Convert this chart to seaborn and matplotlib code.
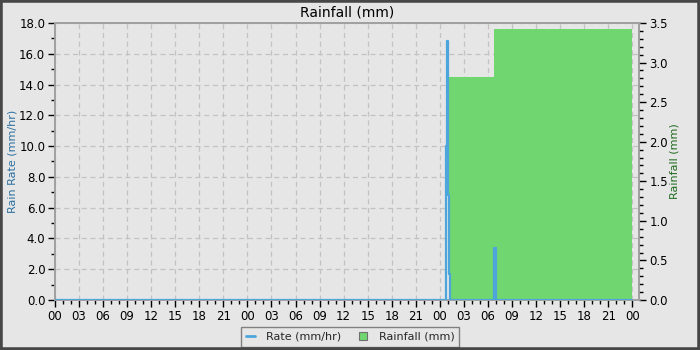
import matplotlib
matplotlib.use("Agg")
import matplotlib.pyplot as plt
from matplotlib.lines import Line2D
from matplotlib.patches import Patch, Rectangle
from matplotlib.ticker import MultipleLocator, FixedLocator, FuncFormatter
import seaborn as sns
import pandas as pd

# ---- data (hours from start of the 3-day window) ----
rate_hours = [0.0, 48.70, 48.75, 48.85, 49.00, 49.10, 49.22, 54.70, 54.75, 54.97, 72.0]
rate_mmhr = [0.0, 0.0, 10.0, 16.8, 6.8, 1.7, 0.0, 0.0, 3.4, 0.0, 0.0]

rain_hours = [49.08, 54.72, 54.80, 72.0]
rain_mm = [2.82, 3.40, 3.42, 3.42]

tick_hours = list(range(0, 73, 3))
tick_labels = ["%02d" % (h % 24) for h in tick_hours]

title = "Rainfall (mm)"
left_label = "Rain Rate (mm/hr)"
right_label = "Rainfall (mm)"

# ---- style ----
BG = "#e6e6e6"
BLUE = "#4ca6dc"
GREEN = "#70d670"
sns.set_theme(style="white")
plt.rcParams["font.family"] = ["DejaVu Sans"]

fig = plt.figure(figsize=(7, 3.5), dpi=100, facecolor=BG)
ax = fig.add_axes([55/700, 1-300/350, (639.5-55)/700, (300-23)/350])
ax.set_facecolor(BG)
ax2 = ax.twinx()
ax3 = ax.twinx()

XMAX = 72.9
for a in (ax, ax2, ax3):
    a.set_xlim(0, XMAX)
ax.set_ylim(0, 18)
ax3.set_ylim(0, 18)
ax2.set_ylim(0, 3.5)

# grid on the bottom axes
ax.grid(True, which="major", color="#c2c2c2", linestyle=(0, (4, 3)), linewidth=0.9)
ax.set_axisbelow(True)

# rainfall area
ax2.fill_between(rain_hours, rain_mm, 0, step="post", color=GREEN, linewidth=0, zorder=2)

# rain rate line
df = pd.DataFrame({"h": rate_hours, "r": rate_mmhr})
sns.lineplot(data=df, x="h", y="r", ax=ax3, color=BLUE, linewidth=1.6,
             drawstyle="steps-post", estimator=None, sort=False)
ax3.set_xlabel("")
ax3.set_ylabel("")
ax3.set_yticks([])
for s in ax3.spines.values():
    s.set_visible(False)

# ticks
ax.xaxis.set_major_locator(FixedLocator(tick_hours))
ax.set_xticklabels(tick_labels)
ax.xaxis.set_minor_locator(MultipleLocator(1))
ax.yaxis.set_major_locator(MultipleLocator(2))
ax.yaxis.set_minor_locator(MultipleLocator(1))
ax.yaxis.set_major_formatter(FuncFormatter(lambda v, p: "%.1f" % v))
ax2.yaxis.set_major_locator(MultipleLocator(0.5))
ax2.yaxis.set_minor_locator(MultipleLocator(0.1))
ax2.yaxis.set_major_formatter(FuncFormatter(lambda v, p: "%.1f" % v))

for a in (ax, ax2):
    a.tick_params(which="major", length=5, width=1, color="black", labelsize=8.5,
                  labelcolor="black", pad=2)
    a.tick_params(which="minor", length=3, width=1, color="black")
ax.tick_params(axis="x", which="both", bottom=True, top=False)
ax.tick_params(axis="y", which="both", left=True, right=False)
ax2.tick_params(axis="y", which="both", right=True, left=False)
ax2.tick_params(axis="x", which="both", bottom=False, top=False, labelbottom=False)
ax3.tick_params(axis="x", which="both", bottom=False, top=False, labelbottom=False)

for a in (ax, ax2):
    for s in a.spines.values():
        s.set_color("#a0a0a0")
        s.set_linewidth(1.2)

ax.set_title(title, fontsize=10, color="black", pad=5)
ax.set_ylabel(left_label, fontsize=8, color="#2a6f9f", labelpad=1)
ax2.set_ylabel(right_label, fontsize=8, color="#1f6b1f", labelpad=1)

handles = [Line2D([0], [0], color=BLUE, linewidth=2),
           Patch(facecolor=GREEN, edgecolor="#707070", linewidth=0.8)]
leg = fig.legend(handles, ["Rate (mm/hr)", "Rainfall (mm)"], loc="lower center",
                 bbox_to_anchor=(0.5, 0.009), ncol=2, fontsize=8, frameon=True,
                 fancybox=False, edgecolor="#808080", facecolor=BG, framealpha=1,
                 handlelength=0.8, handleheight=0.8, columnspacing=1.6,
                 handletextpad=1.0, borderpad=0.45, borderaxespad=0)
leg.get_frame().set_linewidth(1.0)

# dark frame around the figure
fig.patches.append(Rectangle((0, 0), 1, 1, transform=fig.transFigure, fill=False,
                             edgecolor="#474747", linewidth=4, zorder=10))

fig.savefig("out.png", dpi=100, facecolor=BG)
